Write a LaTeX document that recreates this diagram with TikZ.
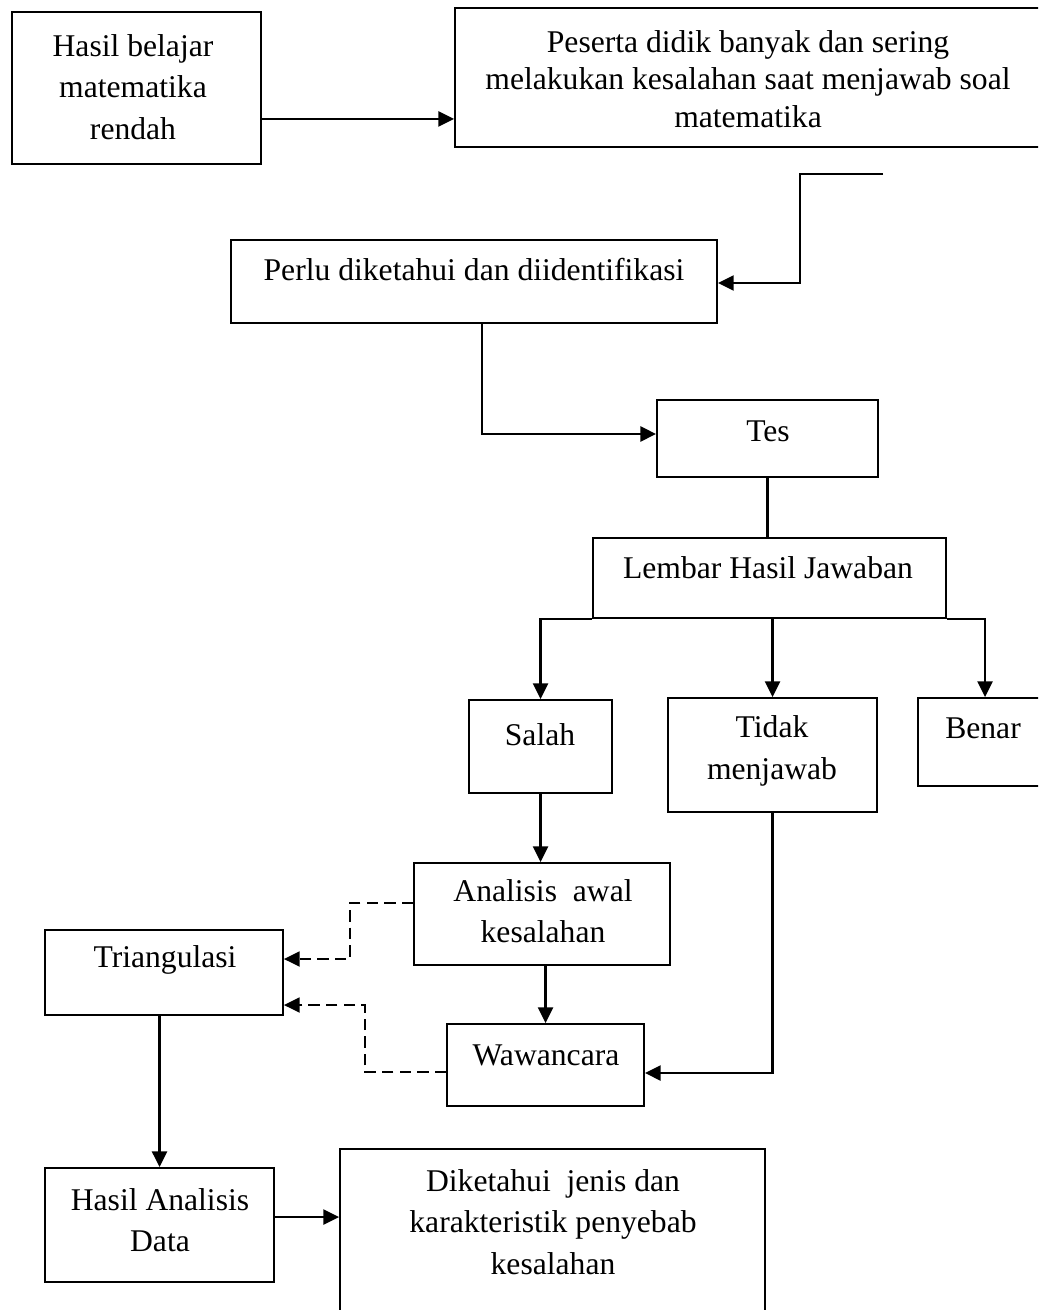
\documentclass[tikz,border=0pt]{standalone}
\usepackage{fontspec}
\setmainfont{Liberation Serif}
\usetikzlibrary{arrows.meta,fit}

\tikzset{
  box/.style={draw, line width=1pt, inner sep=0pt},
  txt/.style={align=center, inner sep=0pt, font=\fontsize{18}{23.5}\selectfont},
  arr/.style={line width=1.5pt, -{Triangle[length=9pt,width=8.5pt]}},
  dasharr/.style={arr, line width=1.2pt, dash pattern=on 6.5pt off 3.5pt},
  link/.style={line width=1.5pt}
}

\begin{document}
\begin{tikzpicture}[x=0.02cm, y=-0.02cm]
  \useasboundingbox (0,0) rectangle (1038,1310);
  \clip (0,0) rectangle (1038,1310);

  % boxes
  \node[box, fit={(12,12) (261,164)}] (hasil) {};
  \node[box, fit={(455,8) (1050,147)}] (peserta) {};
  \node[box, fit={(231,240) (717,323)}] (perlu) {};
  \node[box, fit={(657,400) (878,477)}] (tes) {};
  \node[box, fit={(593,538) (946,618)}] (lembar) {};
  \node[box, fit={(469,700) (612,793)}] (salah) {};
  \node[box, fit={(668,698) (877,812)}] (tidak) {};
  \node[box, fit={(918,698) (1050,786)}] (benar) {};
  \node[box, fit={(414,863) (670,965)}] (analisis) {};
  \node[box, fit={(447,1024) (644,1106)}] (wawancara) {};
  \node[box, fit={(45,930) (283,1015)}] (triang) {};
  \node[box, fit={(45,1168) (274,1282)}] (hasilAn) {};
  \node[box, fit={(340,1149) (765,1330)}] (diketahui) {};

  % texts
  \node[txt] (hasilT) at (133,87) {Hasil belajar\\matematika\\rendah};
  \node[txt, font=\fontsize{18}{21.5}\selectfont] (pesertaT) at (748,79) {Peserta didik banyak dan sering\\melakukan kesalahan saat menjawab soal\\matematika};
  \node[txt] (perluT) at (474,270) {Perlu diketahui dan diidentifikasi};
  \node[txt] (tesT) at (768,431) {Tes};
  \node[txt] (lembarT) at (768,568) {Lembar Hasil Jawaban};
  \node[txt] (salahT) at (540,735) {Salah};
  \node[txt] (tidakT) at (772,751) {Tidak\\menjawab};
  \node[txt] (benarT) at (983,728) {Benar};
  \node[txt] (analisisT) at (543,911) {Analisis\ \ awal\\kesalahan};
  \node[txt] (wawancaraT) at (546,1055) {Wawancara};
  \node[txt] (triangT) at (165,960) {Triangulasi};
  \node[txt] (hasilAnT) at (160,1220) {Hasil Analisis\\Data};
  \node[txt] (diketahuiT) at (553,1222) {Diketahui\ \ jenis dan\\karakteristik penyebab\\kesalahan};

  % connectors
  \coordinate (free) at (883,174);
  \draw[arr] (hasil.east |- 0,119) -- (peserta.west |- 0,119);
  \draw[arr] (free) -- (800,174) |- (perlu.east |- 0,283);
  \draw[arr] (perlu.south -| 482,0) |- (tes.west |- 0,434);
  \draw[link] (tes.south) -- (tes.south |- lembar.north);
  \draw[arr] (lembar.south west) -| (salah.north);
  \draw[arr] (tidak.north |- lembar.south) -- (tidak.north);
  \draw[arr] (lembar.south east) -| (benar.north -| 985,0);
  \draw[arr] (salah.south) -- (salah.south |- analisis.north);
  \draw[arr] (wawancara.north |- analisis.south) -- (wawancara.north);
  \draw[arr] (tidak.south) |- (wawancara.east |- 0,1073);
  \draw[dasharr] (analisis.west |- 0,903) -- (350,903) |- (triang.east |- 0,959);
  \draw[dasharr] (wawancara.west |- 0,1072) -- (365,1072) |- (triang.east |- 0,1005);
  \draw[arr] (hasilAn.north |- triang.south) -- (hasilAn.north);
  \draw[arr] (hasilAn.east |- 0,1217) -- (diketahui.west |- 0,1217);
\end{tikzpicture}
\end{document}
